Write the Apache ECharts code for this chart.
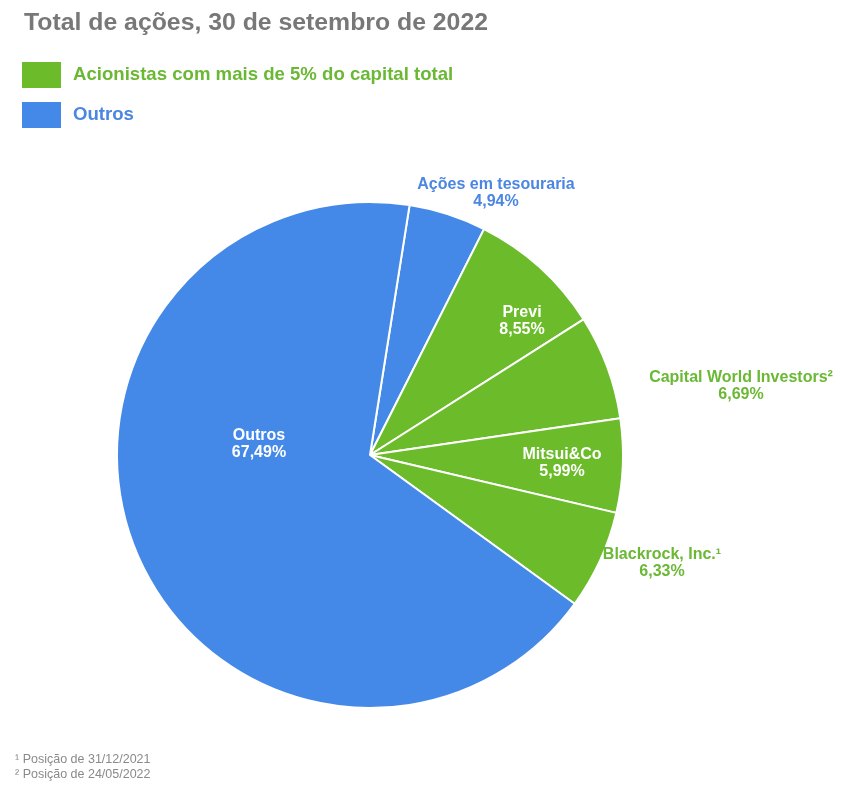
<!DOCTYPE html>
<html><head><meta charset="utf-8">
<script src="https://cdn.jsdelivr.net/npm/echarts@6/dist/echarts.min.js"></script>
<style>html,body{margin:0;padding:0;background:#fff}#c{width:846px;height:786px}</style>
</head><body><div id="c"></div>
<script>
// ---- data ----
const titleText = 'Total de ações, 30 de setembro de 2022';
const groupNames = ['Acionistas com mais de 5% do capital total', 'Outros'];
const sliceNames = ['Ações em tesouraria', 'Previ', 'Capital World Investors²', 'Mitsui&Co', 'Blackrock, Inc.¹', 'Outros'];
const sliceValues = [4.94, 8.55, 6.69, 5.99, 6.33, 67.49];
const sliceGroup = [1, 0, 0, 0, 0, 1];
const footnotes = ['¹ Posição de 31/12/2021', '² Posição de 24/05/2022'];

// ---- layout / style (kept apart from data) ----
const groupColors = ['#6bbb2a', '#4589e8'];
const groupTextColors = ['#6ab834', '#4a86e2'];
const sliceLabelInside = [false, true, false, true, false, true];
const labelShift = [[126, -262], [152, -134], [371, -69], [192, 8], [292, 108], [-111, -11]];
const fontFamily = '"Liberation Sans", Arial, Helvetica, sans-serif';

const fmtPct = v => v.toFixed(2).replace('.', ',') + '%';

const pieData = sliceNames.map((n, i) => ({
  name: n,
  value: sliceValues[i],
  itemStyle: { color: groupColors[sliceGroup[i]] },
  label: { color: sliceLabelInside[i] ? '#ffffff' : groupTextColors[sliceGroup[i]] }
}));

const chart = echarts.init(document.getElementById('c'), null, { renderer: 'canvas' });
chart.setOption({
  backgroundColor: '#ffffff',
  animation: false,
  title: [
    {
      text: titleText, left: 24, top: 11, padding: 0,
      textStyle: { fontFamily, fontSize: 24.8, fontWeight: 'bold', color: '#787878' }
    },
    {
      text: footnotes.join('\n'), left: 15, top: 752, padding: 0,
      textStyle: { fontFamily, fontSize: 12.5, fontWeight: 'normal', color: '#8a8a8a', lineHeight: 15 }
    }
  ],
  legend: {
    orient: 'vertical', left: 22, top: 62, padding: 0,
    itemWidth: 39, itemHeight: 26, itemGap: 14, icon: 'rect',
    selectedMode: false,
    textStyle: { fontFamily, fontSize: 18.6, fontWeight: 'bold', padding: [0, 0, 0, 7] },
    data: groupNames.map((g, i) => ({ name: g, textStyle: { color: groupTextColors[i] } }))
  },
  series: [
    {
      type: 'pie',
      center: [370, 455],
      radius: 253,
      startAngle: 81,
      clockwise: true,
      silent: true,
      itemStyle: { borderColor: '#ffffff', borderWidth: 2 },
      label: {
        show: true, position: 'center',
        fontFamily, fontSize: 16, fontWeight: 'bold', lineHeight: 17, align: 'center',
        formatter: p => p.name + '\n' + fmtPct(p.value)
      },
      labelLine: { show: false },
      labelLayout: p => ({ dx: labelShift[p.dataIndex][0], dy: labelShift[p.dataIndex][1] }),
      data: pieData
    },
    ...groupNames.map((g, i) => ({
      type: 'pie', name: g, radius: 0, data: [], showEmptyCircle: false,
      itemStyle: { color: groupColors[i] }
    }))
  ]
});
</script>
</body></html>
